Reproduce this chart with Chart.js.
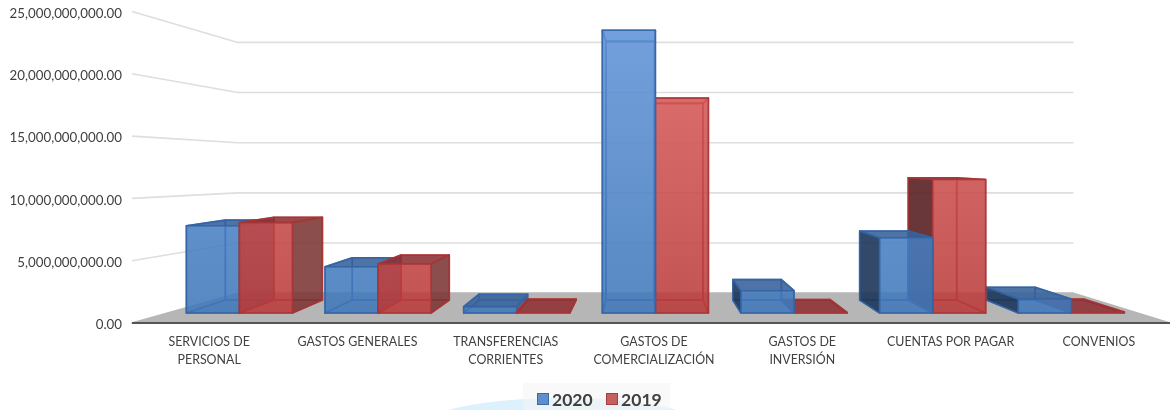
<!DOCTYPE html>
<html>
<head>
<meta charset="utf-8">
<title>Gastos 2020 / 2019</title>
<script src="https://cdn.jsdelivr.net/npm/chart.js@4"></script>
<style>
    html, body { margin: 0; padding: 0; background: #ffffff; }
    #wrap { position: relative; width: 1170px; height: 410px; overflow: hidden; }
    #chart { display: block; position: absolute; left: 0; top: 0; }
    /* smudge of the slide background that shows under the legend */
    #arc { position: absolute; left: 420px; top: 398px; width: 285px; height: 60px; border-radius: 50%; background: #dcf1fb; }
    #legendBg { position: absolute; left: 523px; top: 383px; width: 147px; height: 27px; background: rgba(245,245,245,0.6); }
    #legend { position: absolute; left: 537px; top: 388px; height: 22px; display: flex; align-items: center; font: bold 17.5px Lato, sans-serif; color: #404040; }
    #legend span.box { display: inline-block; width: 10px; height: 10px; border: 1.5px solid; margin-right: 3px; }
    #legend span.txt { margin-right: 13.5px; }
</style>
</head>
<body>
<div id="wrap">
    <div id="arc"></div>
    <div id="legendBg"></div>
    <canvas id="chart" width="1170" height="410"></canvas>
    <div id="legend"></div>
</div>
<script>
const categories = [
    ["SERVICIOS DE", "PERSONAL"],
    "GASTOS GENERALES",
    ["TRANSFERENCIAS", "CORRIENTES"],
    ["GASTOS DE", "COMERCIALIZACIÓN"],
    ["GASTOS DE", "INVERSIÓN"],
    "CUENTAS POR PAGAR",
    "CONVENIOS"
];
const values2020 = [7500000000, 3970000000, 550000000, 24270000000, 1920000000, 6470000000, 1200000000];
const values2019 = [7760000000, 4220000000, 100000000, 18450000000, 50000000, 11470000000, 100000000];
const yTicks = [0, 5000000000, 10000000000, 15000000000, 20000000000, 25000000000];

// faked perspective: the room is pulled towards vp, the boxes' depth towards boxVp
const vp = { x: 675, y: 170 };
const boxVp = { x: 645, y: 160 };
const depthBack = 0.805;
const barFront = 0.935;
const boxDepth = 0.915;
const nudge = 3;

function project(x, y, s) {
    return [vp.x + (x - vp.x) * s, vp.y + (y - vp.y) * s];
}

function quad(ctx, pts, fill, stroke) {
    ctx.beginPath();
    pts.forEach((p, i) => i ? ctx.lineTo(p[0], p[1]) : ctx.moveTo(p[0], p[1]));
    ctx.closePath();
    ctx.fillStyle = fill;
    ctx.fill();
    ctx.lineWidth = 1.6;
    ctx.lineJoin = "round";
    ctx.strokeStyle = stroke;
    ctx.stroke();
}

const palette = [
    { low: "rgba(62,119,186,0.8)", high: "rgba(99,151,221,0.8)", sideL: "rgba(26,50,85,0.85)", sideR: "rgba(55,90,140,0.75)", top: "rgba(55,98,155,0.82)", inner: "rgba(60,108,170,0.35)", line: "rgba(52,100,165,0.85)" },
    { low: "rgba(186,56,56,0.8)", high: "rgba(226,101,99,0.8)", sideL: "rgba(85,30,35,0.85)", sideR: "rgba(120,50,50,0.8)", top: "rgba(140,48,52,0.82)", inner: "rgba(170,60,60,0.35)", line: "rgba(168,52,52,0.8)" }
];

const room = {
    id: "room",
    beforeDatasetsDraw(chart) {
        const ctx = chart.ctx;
        const a = chart.chartArea;
        const y = chart.scales.y;
        ctx.save();
        // floor
        quad(ctx, [[a.left, a.bottom], [a.right, a.bottom],
            project(a.right, a.bottom, depthBack), project(a.left, a.bottom, depthBack)], "#b6b6b6", "#b6b6b6");
        // gridlines on side wall and back wall
        ctx.strokeStyle = "#dedede";
        ctx.lineWidth = 1.6;
        y.ticks.forEach(t => {
            if (t.value === 0) return;
            const py = y.getPixelForValue(t.value);
            const p1 = project(a.left, py, depthBack);
            const p2 = project(a.right, py, depthBack);
            ctx.beginPath();
            ctx.moveTo(a.left, py);
            ctx.lineTo(p1[0], p1[1]);
            ctx.lineTo(p2[0], p2[1]);
            ctx.stroke();
        });
        // front edge of the floor
        ctx.strokeStyle = "#555555";
        ctx.lineWidth = 2;
        ctx.beginPath();
        ctx.moveTo(a.left, a.bottom);
        ctx.lineTo(a.right, a.bottom);
        ctx.stroke();
        ctx.restore();

        // all the boxes, the ones furthest from the middle go first
        const boxes = [];
        chart.data.datasets.forEach((ds, d) => {
            chart.getDatasetMeta(d).data.forEach(bar => boxes.push({ bar, d }));
        });
        boxes.sort((p, q) => Math.abs(q.bar.x - boxVp.x) - Math.abs(p.bar.x - boxVp.x));
        boxes.forEach(b => drawBox(chart, b.bar, palette[b.d]));
    },
    beforeDatasetDraw() {
        return false; // bars are drawn as boxes above
    }
};

function drawBox(chart, bar, c) {
    const ctx = chart.ctx;
    const a = chart.chartArea;
    const l = bar.x - bar.width / 2 + nudge;
    const r = bar.x + bar.width / 2 + nudge;
    const f = (x, y) => project(x, y, barFront);
    const k = (x, y) => {
        const p = f(x, y);
        return [boxVp.x + (p[0] - boxVp.x) * boxDepth, boxVp.y + (p[1] - boxVp.y) * boxDepth];
    };

    const grad = ctx.createLinearGradient(0, a.bottom, 0, a.top);
    grad.addColorStop(0, c.low);
    grad.addColorStop(1, c.high);

    const leftOfMiddle = f(bar.x, bar.y)[0] < boxVp.x;
    const seenSide = leftOfMiddle ? r : l;
    const hiddenSide = leftOfMiddle ? l : r;
    const bigBox = Math.abs(f(seenSide, bar.y)[0] - boxVp.x) < 40;

    ctx.save();
    // back, floor and the far side, see-through
    quad(ctx, [k(l, bar.base), k(r, bar.base), k(r, bar.y), k(l, bar.y)], c.inner, c.line);
    quad(ctx, [f(l, bar.base), f(r, bar.base), k(r, bar.base), k(l, bar.base)], c.inner, c.line);
    quad(ctx, [f(hiddenSide, bar.base), k(hiddenSide, bar.base), k(hiddenSide, bar.y), f(hiddenSide, bar.y)], c.inner, c.line);
    // bars close to the middle barely show a side, so keep it pale
    quad(ctx, [f(seenSide, bar.base), k(seenSide, bar.base), k(seenSide, bar.y), f(seenSide, bar.y)],
        bigBox ? c.inner : (leftOfMiddle ? c.sideR : c.sideL), c.line);
    quad(ctx, [f(l, bar.y), f(r, bar.y), k(r, bar.y), k(l, bar.y)], bar.y < boxVp.y ? c.inner : c.top, c.line);
    quad(ctx, [f(l, bar.base), f(r, bar.base), f(r, bar.y), f(l, bar.y)], grad, c.line);
    ctx.restore();
}

const chart = new Chart(document.getElementById("chart"), {
    type: "bar",
    data: {
        labels: categories,
        datasets: [
            { label: "2020", data: values2020, backgroundColor: "#5f8ec9", borderColor: "#3a6aa8" },
            { label: "2019", data: values2019, backgroundColor: "#c75f5f", borderColor: "#a53e3e" }
        ]
    },
    options: {
        responsive: false,
        animation: false,
        layout: { autoPadding: false, padding: { top: 11.5, left: 0, right: 0, bottom: 0 } },
        datasets: { bar: { categoryPercentage: 0.765, barPercentage: 1 } },
        plugins: {
            tooltip: { enabled: false },
            legend: { display: false }
        },
        scales: {
            x: {
                grid: { display: false },
                border: { display: false },
                afterFit(s) { s.height = 87; s.paddingLeft = 0; s.paddingRight = 0; },
                ticks: {
                    autoSkip: false,
                    maxRotation: 0,
                    labelOffset: nudge,
                    padding: 2,
                    color: "#404040",
                    font: { family: "Lato", size: 12.4, lineHeight: 1.43 }
                }
            },
            y: {
                min: 0,
                max: 25000000000,
                afterBuildTicks(s) { s.ticks = yTicks.map(v => ({ value: v })); },
                afterFit(s) { s.width = 132; s.paddingTop = 0; s.paddingBottom = 0; },
                grid: { display: false },
                border: { display: false },
                ticks: {
                    padding: 2,
                    labelOffset: 2,
                    color: "#404040",
                    font: { family: "Lato", size: 13.3 },
                    callback: v => v.toLocaleString("en-US", { minimumFractionDigits: 2 })
                }
            }
        }
    },
    plugins: [room]
});

// legend sits in the html so it can go off-centre like the original
chart.data.datasets.forEach(ds => {
    const legend = document.getElementById("legend");
    const box = document.createElement("span");
    box.className = "box";
    box.style.background = ds.backgroundColor;
    box.style.borderColor = ds.borderColor;
    const txt = document.createElement("span");
    txt.className = "txt";
    txt.textContent = ds.label;
    legend.appendChild(box);
    legend.appendChild(txt);
});
</script>
</body>
</html>
